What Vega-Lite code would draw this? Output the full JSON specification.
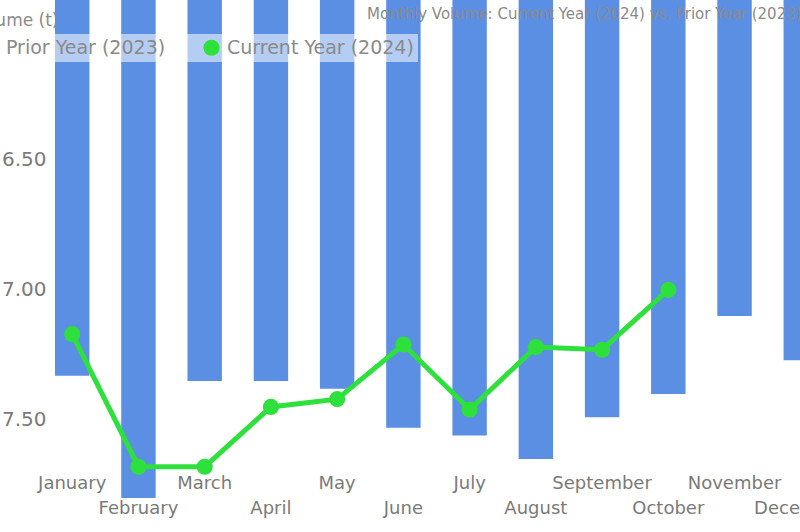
{
  "$schema": "https://vega.github.io/schema/vega-lite/v6.json",
  "width": 745,
  "height": 532,
  "autosize": {"type": "none"},
  "padding": {"left": 55, "top": 0, "right": 0, "bottom": 0},
  "background": "white",
  "title": {
    "text": "Monthly Volume: Current Year (2024) vs. Prior Year (2023)",
    "anchor": "start",
    "frame": "group",
    "dx": 312,
    "offset": -22,
    "fontSize": 15,
    "fontWeight": "normal",
    "font": "DejaVu Sans",
    "color": "#8a8a8a"
  },
  "data": {
    "values": [
      {"month": "January", "series": "Prior Year (2023)", "value": 7.33},
      {"month": "February", "series": "Prior Year (2023)", "value": 7.80},
      {"month": "March", "series": "Prior Year (2023)", "value": 7.35},
      {"month": "April", "series": "Prior Year (2023)", "value": 7.35},
      {"month": "May", "series": "Prior Year (2023)", "value": 7.38},
      {"month": "June", "series": "Prior Year (2023)", "value": 7.53},
      {"month": "July", "series": "Prior Year (2023)", "value": 7.56},
      {"month": "August", "series": "Prior Year (2023)", "value": 7.65},
      {"month": "September", "series": "Prior Year (2023)", "value": 7.49},
      {"month": "October", "series": "Prior Year (2023)", "value": 7.40},
      {"month": "November", "series": "Prior Year (2023)", "value": 7.10},
      {"month": "December", "series": "Prior Year (2023)", "value": 7.27},
      {"month": "January", "series": "Current Year (2024)", "value": 7.17},
      {"month": "February", "series": "Current Year (2024)", "value": 7.68},
      {"month": "March", "series": "Current Year (2024)", "value": 7.68},
      {"month": "April", "series": "Current Year (2024)", "value": 7.45},
      {"month": "May", "series": "Current Year (2024)", "value": 7.42},
      {"month": "June", "series": "Current Year (2024)", "value": 7.21},
      {"month": "July", "series": "Current Year (2024)", "value": 7.46},
      {"month": "August", "series": "Current Year (2024)", "value": 7.22},
      {"month": "September", "series": "Current Year (2024)", "value": 7.23},
      {"month": "October", "series": "Current Year (2024)", "value": 7.00}
    ]
  },
  "encoding": {
    "x": {
      "field": "month",
      "type": "nominal",
      "sort": ["January", "February", "March", "April", "May", "June", "July", "August", "September", "October", "November", "December"],
      "scale": {"range": [0, 763], "paddingInner": 0.48, "paddingOuter": 0},
      "axis": {
        "title": null,
        "orient": "bottom",
        "offset": -60,
        "domain": false,
        "ticks": false,
        "labelAngle": 0,
        "labelPadding": 2,
        "labelFont": "DejaVu Sans",
        "labelFontSize": 18,
        "labelColor": "#7a7a7a",
        "labelLineHeight": 25,
        "labelBaseline": "top",
        "labelExpr": "indexof(['January','February','March','April','May','June','July','August','September','October','November','December'], datum.value) % 2 == 1 ? ['', datum.label] : datum.label"
      }
    },
    "y": {
      "field": "value",
      "type": "quantitative",
      "scale": {"domain": [5.885, 7.931], "reverse": true, "zero": false, "nice": false},
      "axis": {
        "values": [6.5, 7, 7.5],
        "format": ".2f",
        "grid": false,
        "domain": false,
        "ticks": false,
        "labelPadding": 9,
        "labelFont": "DejaVu Sans",
        "labelFontSize": 20,
        "labelColor": "#7a7a7a",
        "title": "Volume (t)",
        "titleAngle": 0,
        "titleAlign": "right",
        "titleBaseline": "middle",
        "titleX": 3,
        "titleY": 20,
        "titleFont": "DejaVu Sans",
        "titleFontSize": 17,
        "titleFontWeight": "normal",
        "titleColor": "#8a8a8a"
      }
    },
    "color": {
      "field": "series",
      "type": "nominal",
      "scale": {"domain": ["Prior Year (2023)", "Current Year (2024)"], "range": ["#5b8fe4", "#2ee03c"]},
      "legend": {
        "title": null,
        "orient": "none",
        "direction": "horizontal",
        "legendX": -78,
        "legendY": 34,
        "padding": 4,
        "fillColor": "rgba(255,255,255,0.55)",
        "symbolType": "circle",
        "symbolSize": 260,
        "symbolStrokeWidth": 0,
        "labelFont": "DejaVu Sans",
        "labelFontSize": 19,
        "labelColor": "#8a8a8a",
        "labelOffset": 6,
        "labelLimit": 300,
        "columnPadding": 36
      }
    }
  },
  "layer": [
    {
      "transform": [{"filter": "datum.series == 'Prior Year (2023)'"}],
      "mark": {"type": "bar", "clip": true},
      "encoding": {"y2": {"datum": 0}}
    },
    {
      "transform": [{"filter": "datum.series == 'Current Year (2024)'"}],
      "mark": {"type": "line", "strokeWidth": 5, "point": {"size": 260, "filled": true}}
    }
  ],
  "config": {"view": {"stroke": null}, "font": "DejaVu Sans"}
}
